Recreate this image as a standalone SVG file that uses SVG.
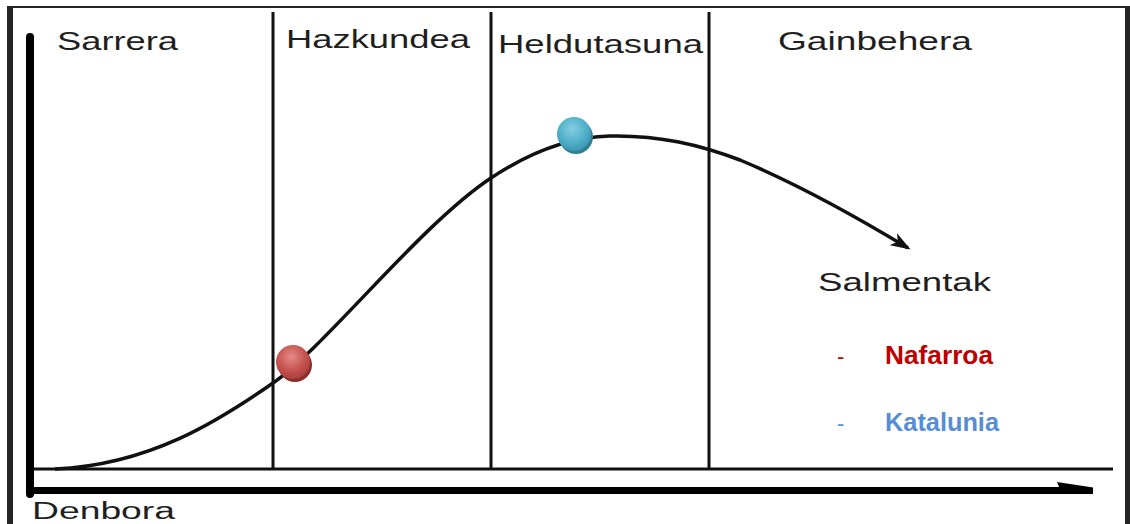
<svg xmlns="http://www.w3.org/2000/svg" width="1130" height="524" viewBox="0 0 1130 524">
<defs>
<style>
.lbl{font-family:"Liberation Sans",Arial,sans-serif;font-size:25px;fill:#1f1f1f}
.leg{font-family:"Liberation Sans",Arial,sans-serif;font-size:26px;font-weight:bold}
.phase{stroke:#111;stroke-width:3;fill:none}
.frame{fill:#262626}
</style>
<marker id="ah" viewBox="0 0 20 14" refX="17" refY="7" markerWidth="20" markerHeight="14" markerUnits="userSpaceOnUse" orient="auto">
<path d="M0,0 L20,7 L0,14 L5,7 Z" fill="#111"/>
</marker>
<radialGradient id="gRed" cx="0.45" cy="0.35" r="0.7">
<stop offset="0" stop-color="#e58a88"/>
<stop offset="0.6" stop-color="#c4514e"/>
<stop offset="1" stop-color="#a33c3a"/>
</radialGradient>
<radialGradient id="gBlue" cx="0.45" cy="0.35" r="0.7">
<stop offset="0" stop-color="#86cfe2"/>
<stop offset="0.6" stop-color="#4eaec8"/>
<stop offset="1" stop-color="#3a93ad"/>
</radialGradient>
</defs>
<rect width="1130" height="524" fill="#ffffff"/>
<g id="frame">
<rect class="frame" x="7" y="6" width="6" height="518"/>
<rect class="frame" x="1125" y="6" width="5" height="518"/>
<rect class="frame" x="7" y="6" width="1123" height="2"/>
</g>
<g id="connectors">
<line class="phase" x1="273" y1="12" x2="273" y2="469"/>
<line class="phase" x1="491" y1="12" x2="491" y2="469"/>
<line class="phase" x1="709" y1="12" x2="709" y2="469"/>
<line x1="30" y1="469" x2="1113" y2="469" stroke="#111" stroke-width="3"/>
<line x1="30" y1="37" x2="30" y2="494" stroke="#000" stroke-width="8" stroke-linecap="round"/>
<line x1="26" y1="490.5" x2="1090" y2="490.5" stroke="#000" stroke-width="7"/>
<polygon points="1057,482 1093,487.5 1093,494 1062,494" fill="#000"/>
<path d="M55,469 C150,465 220,420 273,383 C326,346 420,225 491,178 C530,152 570,137 610,136 C660,135 700,145 740,160 C800,185 865,222 908,248" fill="none" stroke="#111" stroke-width="3.5" marker-end="url(#ah)"/>
</g>
<g id="dot-red">
<circle cx="295" cy="365" r="17" fill="#8e2f2d"/>
<circle cx="293" cy="362" r="17" fill="url(#gRed)"/>
</g>
<g id="dot-blue">
<circle cx="576" cy="137" r="17" fill="#2f7f97"/>
<circle cx="574" cy="134" r="17" fill="url(#gBlue)"/>
</g>
<g id="labels">
<text class="lbl" x="57" y="50" textLength="121" lengthAdjust="spacingAndGlyphs">Sarrera</text>
<text class="lbl" x="286" y="48" textLength="184" lengthAdjust="spacingAndGlyphs">Hazkundea</text>
<text class="lbl" x="498" y="53" textLength="205" lengthAdjust="spacingAndGlyphs">Heldutasuna</text>
<text class="lbl" x="778" y="50" textLength="194" lengthAdjust="spacingAndGlyphs">Gainbehera</text>
<text class="lbl" x="818" y="291" textLength="173" lengthAdjust="spacingAndGlyphs">Salmentak</text>
<text class="lbl" x="32" y="519" style="font-size:23px" textLength="143" lengthAdjust="spacingAndGlyphs">Denbora</text>
</g>
<g id="legend">
<text class="leg" x="837" y="364" fill="#c00000" style="font-weight:normal;font-size:22px">-</text>
<text class="leg" x="885" y="364" fill="#c00000" textLength="108" lengthAdjust="spacingAndGlyphs">Nafarroa</text>
<text class="leg" x="837" y="431" fill="#558ed5" style="font-weight:normal;font-size:22px">-</text>
<text class="leg" x="885" y="431" fill="#558ed5" textLength="114" lengthAdjust="spacingAndGlyphs">Katalunia</text>
</g>
</svg>
